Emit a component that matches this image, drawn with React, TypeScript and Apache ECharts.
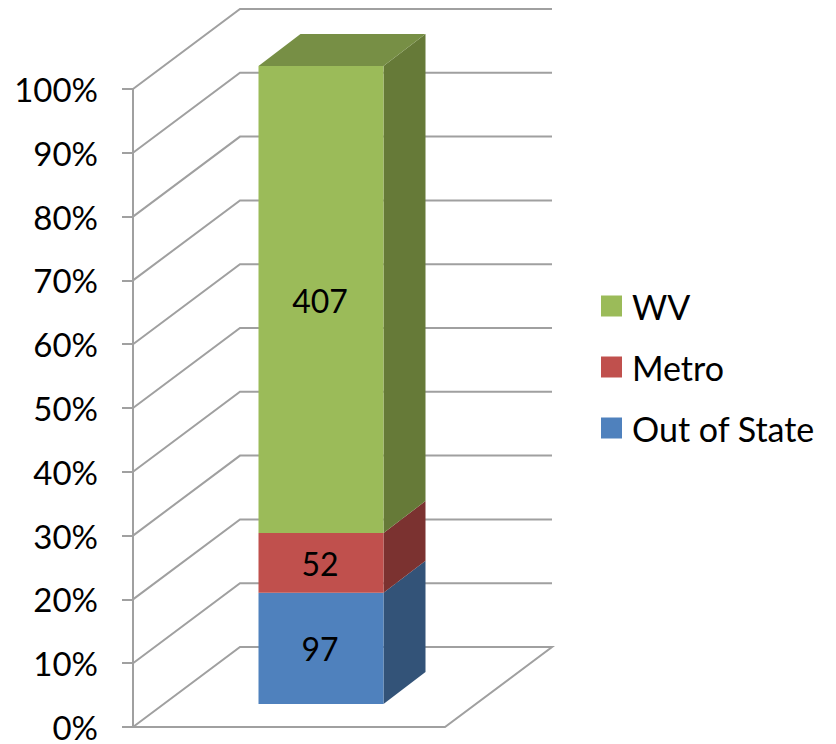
import React, { useEffect, useRef } from "react";
import * as echarts from "echarts";

const categories = ["Origin"];
const seriesNames = ["Out of State", "Metro", "WV"];
const counts = [97, 52, 407];
const legendOrder = ["WV", "Metro", "Out of State"];
const axisTicks = [0, 10, 20, 30, 40, 50, 60, 70, 80, 90, 100];
const frontColors = ["#4F81BD", "#C0504D", "#9BBB59"];
const sideColors = ["#335378", "#7B3230", "#667A38"];
const topColors = ["#3F6797", "#9A403E", "#778F45"];

const FONT = "Lato";
const GRID_COLOR = "#A0A0A0";
const WALL_DX = 107;
const WALL_DY = -80;
const BAR_DX = 32;
const BAR_DY = -23;
const BAR_HALF = 62.5;
const SIDE_DX = 42;
const SIDE_DY = -32;

export default function App() {
  const ref = useRef<HTMLDivElement>(null);
  useEffect(() => {
    const chart = echarts.init(ref.current!, undefined, { renderer: "svg" });
    const total = counts.reduce((a, b) => a + b, 0);
    let cum = 0;
    const bars = counts.map((c, i) => {
      const start = (cum / total) * 100;
      cum += c;
      const end = (cum / total) * 100;
      const isTop = i === counts.length - 1;
      return {
        type: "custom" as const,
        name: seriesNames[i],
        z: 3,
        silent: true,
        clip: false,
        itemStyle: { color: frontColors[i] },
        encode: { x: 0, y: [1, 2] },
        data: [[0, start, end, c]],
        renderItem: (_p: any, api: any) => {
          const lo = api.coord([api.value(0), api.value(1)]);
          const hi = api.coord([api.value(0), api.value(2)]);
          const cx = lo[0] + BAR_DX;
          const x0 = cx - BAR_HALF;
          const x1 = cx + BAR_HALF;
          const yb = lo[1] + BAR_DY;
          const yt = hi[1] + BAR_DY;
          const children: any[] = [
            {
              type: "polygon",
              shape: { points: [[x1, yb], [x1 + SIDE_DX, yb + SIDE_DY], [x1 + SIDE_DX, yt + SIDE_DY], [x1, yt]] },
              style: { fill: sideColors[i] },
            },
            {
              type: "rect",
              shape: { x: x0, y: yt, width: x1 - x0, height: yb - yt },
              style: { fill: frontColors[i] },
            },
            {
              type: "text",
              style: {
                x: cx - 1,
                y: (yb + yt) / 2 + 0.5,
                text: String(api.value(3)),
                fill: "#000000",
                font: `32px ${FONT}`,
                align: "center",
                verticalAlign: "middle",
              },
            },
          ];
          if (isTop) {
            children.push({
              type: "polygon",
              shape: { points: [[x0, yt], [x1, yt], [x1 + SIDE_DX, yt + SIDE_DY], [x0 + SIDE_DX, yt + SIDE_DY]] },
              style: { fill: topColors[i] },
            });
          }
          return { type: "group", children };
        },
      };
    });

    chart.setOption({
      animation: false,
      backgroundColor: "#FFFFFF",
      grid: { left: 133, top: 89, width: 312, height: 638 },
      legend: {
        orient: "vertical",
        left: 601,
        top: 289,
        padding: 0,
        data: legendOrder,
        icon: "rect",
        itemWidth: 21,
        itemHeight: 21,
        itemGap: 27,
        selectedMode: false,
        textStyle: { fontFamily: FONT, fontSize: 34, color: "#000000", padding: [0, 0, 4, 5] },
      },
      xAxis: { type: "category", data: categories, show: false },
      yAxis: {
        type: "value",
        min: 0,
        max: 100,
        interval: 10,
        axisLine: { show: true, lineStyle: { color: GRID_COLOR, width: 2 } },
        axisTick: { show: true, length: 11, lineStyle: { color: GRID_COLOR, width: 2 } },
        splitLine: { show: false },
        axisLabel: {
          formatter: "{value}%",
          margin: 35,
          color: "#000000",
          fontFamily: FONT,
          fontSize: 33,
          lineHeight: 30,
        },
      },
      series: [
        {
          type: "custom",
          name: "walls",
          z: 1,
          silent: true,
          clip: false,
          encode: { y: 1 },
          data: axisTicks.map((t) => [0, t]),
          renderItem: (p: any, api: any) => {
            const v = api.value(1);
            const pt = api.coord([0, v]);
            const left = p.coordSys.x;
            const right = left + p.coordSys.width;
            const y = pt[1];
            const lineStyle = { stroke: GRID_COLOR, lineWidth: 2, fill: "none" };
            if (v === 0) {
              return {
                type: "polygon",
                shape: {
                  points: [[left, y], [left + WALL_DX, y + WALL_DY], [right + WALL_DX, y + WALL_DY], [right, y]],
                },
                style: lineStyle,
              };
            }
            return {
              type: "polyline",
              shape: { points: [[left, y], [left + WALL_DX, y + WALL_DY], [right + WALL_DX, y + WALL_DY]] },
              style: lineStyle,
            };
          },
        },
        ...bars,
      ],
    });
    return () => chart.dispose();
  }, []);
  return <div ref={ref} style={{ position: "absolute", left: 0, top: 0, width: 836, height: 744 }} />;
}
